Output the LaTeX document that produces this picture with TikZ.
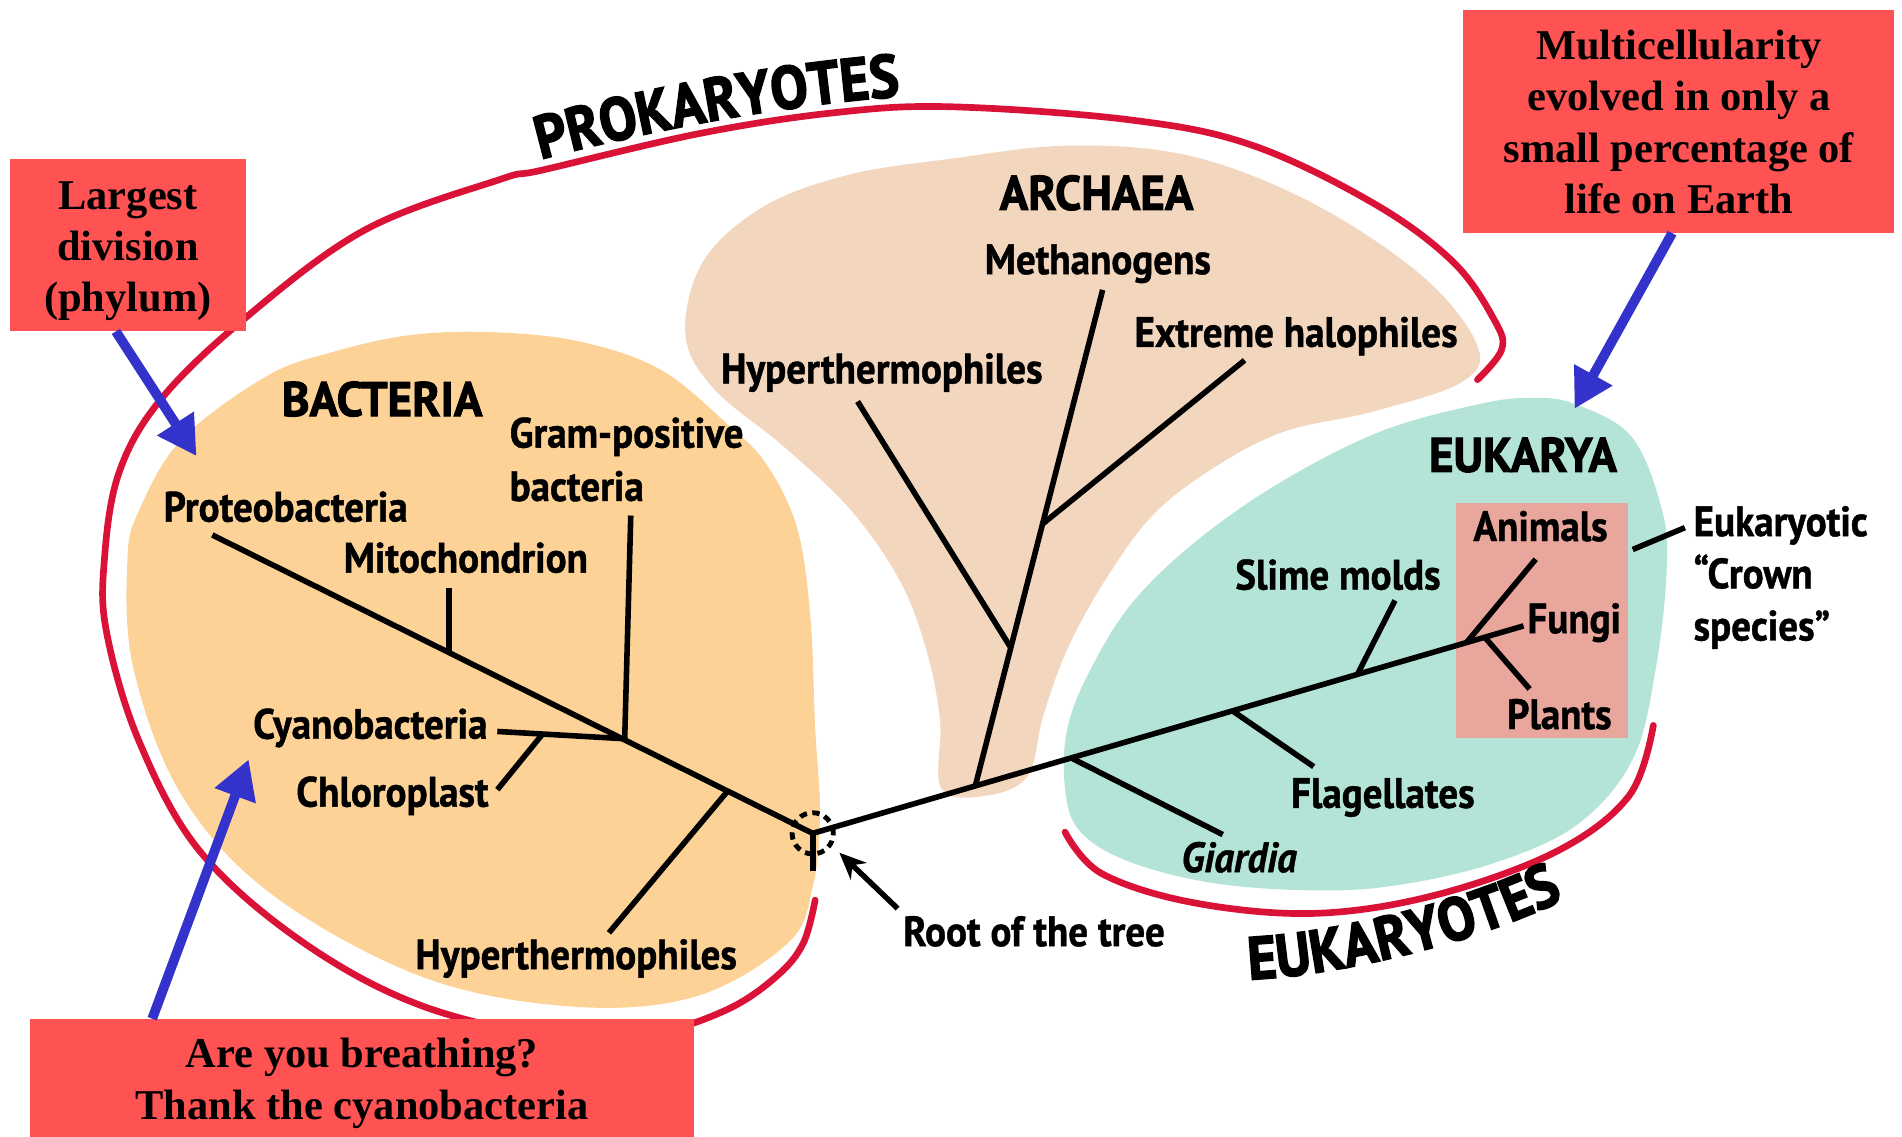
\documentclass[tikz,border=0pt]{standalone}
\usepackage{fontspec}
\usetikzlibrary{arrows.meta,decorations.text}
\newfontfamily\labf[FakeStretch=0.92,FakeBold=1]{PT Sans}
\newfontfamily\ttlf[FakeStretch=0.97,FakeBold=2]{PT Sans}
\newfontfamily\bigf[FakeStretch=0.92,FakeBold=2.5]{PT Sans}
\newfontfamily\callf{Liberation Serif}
\definecolor{bactC}{RGB}{253,210,150}
\definecolor{archC}{RGB}{242,214,190}
\definecolor{eukC}{RGB}{180,228,215}
\definecolor{crownC}{RGB}{232,166,156}
\definecolor{arcC}{RGB}{218,18,55}
\definecolor{boxC}{RGB}{255,82,82}
\definecolor{blueC}{RGB}{51,51,204}
\begin{document}
\begin{tikzpicture}[x=1pt,y=-1pt,
  lab/.style={font=\labf\bfseries\fontsize{35}{43}\selectfont, inner sep=0pt},
  ttl/.style={font=\ttlf\bfseries\fontsize{40}{42}\selectfont, inner sep=0pt},
  calltext/.style={font=\callf\bfseries\fontsize{35}{42.3}\selectfont, inner sep=0pt, align=center},
  callbox/.style={fill=boxC, draw=none, inner sep=0pt},
  branch/.style={line width=4.6pt},
  redarc/.style={draw=arcC, line width=5.5pt, line cap=round},
  bluearrow/.style={draw=blueC, fill=blueC, line width=8pt, -{Triangle[width=34pt,length=32pt]}},
  rootarrow/.style={line width=4.5pt, -{Stealth[width=19pt,length=22pt]}},
  rootcircle/.style={line width=4pt, dash pattern=on 6pt off 4.5pt},
]
\useasboundingbox (0,0) rectangle (1568,937);
\fill[white] (0,0) rectangle (1568,937);

% blobs
\fill[bactC] plot[smooth cycle, tension=0.6] coordinates {
 (105,462) (110,551) (150,656) (225,738) (350,806) (475,830) (575,821) (650,777)
 (670,731) (676,672) (672,600) (668,508) (657,435) (632,383) (600,350) (545,305)
 (480,282) (410,274) (340,276) (275,290) (220,310) (150,362) (115,420)};
\fill[archC] plot[smooth cycle, tension=0.6] coordinates {
 (565,275) (580,215) (630,170) (700,144) (783,131) (883,120) (983,129) (1083,168)
 (1173,228) (1218,285) (1205,315) (1133,339) (1058,356) (1000,386) (950,425)
 (910,480) (880,535) (860,590) (847,640) (812,656) (776,650) (775,594) (764,537)
 (742,479) (701,420) (646,368) (588,320)};
\fill[eukC] plot[smooth cycle, tension=0.6] coordinates {
 (1298,333) (1345,360) (1370,420) (1374,470) (1365,551) (1346,626) (1300,680)
 (1230,712) (1150,730) (1083,734) (1000,728) (930,710) (890,685) (878,650)
 (880,600) (900,550) (935,495) (990,443) (1060,395) (1140,355) (1220,333) (1262,328)};
\fill[crownC] (1200,415) rectangle (1342,608);

% red arcs
\draw[redarc] plot[smooth, tension=0.6] coordinates {
 (672,742) (662,778) (640,805) (600,832) (540,852) (470,857) (350,830) (250,777)
 (165,702) (115,612) (88,522) (86,462) (98,390) (132,330) (200,264) (300,190)
 (412,148) (448,140) (577,110) (687,93) (783,88) (933,99) (1033,120) (1133,168)
 (1198,216) (1232,264) (1238,288) (1218,313)};
\draw[redarc] plot[smooth, tension=0.6] coordinates {
 (878,686) (908,720) (983,744) (1083,753) (1183,738) (1283,702) (1343,656) (1363,598)};

% big arc labels
\path[decorate, decoration={text along path, text align=center,
  text={|\bigf\bfseries\fontsize{50}{50}\selectfont|PROKARYOTES}}]
  (440,133) .. controls (540,106) and (650,86) .. (748,79);
\path[decorate, decoration={text along path, text align=center,
  text={|\bigf\bfseries\fontsize{50}{50}\selectfont|EUKARYOTES}}]
  (1020,808) .. controls (1100,806) and (1222,777) .. (1298,737);

% tree coordinates
\coordinate (root) at (670,687);
\coordinate (rootstub) at (670,718);
\coordinate (proteoE) at (175,441);
\coordinate (jMito) at (370,538);
\coordinate (mitoE) at (370,485);
\coordinate (jGram) at (515,609);
\coordinate (gramE) at (520,425);
\coordinate (cyanoE) at (410,603);
\coordinate (jChloro) at (447,605.5);
\coordinate (chloroE) at (410,651);
\coordinate (jHypB) at (600,652);
\coordinate (hypBE) at (502,769);
\coordinate (fungiE) at (1256,516);
\coordinate (jArch) at (804,648);
\coordinate (jGiardia) at (883,624.8);
\coordinate (jFlag) at (1016,586);
\coordinate (jSlime) at (1119,556);
\coordinate (jCrown) at (1209,529.7);
\coordinate (jPlants) at (1224,525.3);
\coordinate (giardiaE) at (1008,688);
\coordinate (flagE) at (1083,632);
\coordinate (slimeE) at (1150,495);
\coordinate (animalsE) at (1266,461);
\coordinate (plantsE) at (1261,568);
\coordinate (methE) at (909,239);
\coordinate (jHalo) at (859.4,432);
\coordinate (haloE) at (1026,297);
\coordinate (jHypA) at (833.3,534);
\coordinate (hypAE) at (707,331);
\coordinate (crownA) at (1346,453);
\coordinate (crownB) at (1389,435);

% tree branches
\draw[branch] (proteoE) -- (root) -- (fungiE);
\draw[branch] (root) -- (rootstub);
\draw[branch] (jMito) -- (mitoE);
\draw[branch] (jGram) -- (gramE);
\draw[branch] (cyanoE) -- (jGram);
\draw[branch] (jChloro) -- (chloroE);
\draw[branch] (jHypB) -- (hypBE);
\draw[branch] (jArch) -- (methE);
\draw[branch] (jHalo) -- (haloE);
\draw[branch] (jHypA) -- (hypAE);
\draw[branch] (jGiardia) -- (giardiaE);
\draw[branch] (jFlag) -- (flagE);
\draw[branch] (jSlime) -- (slimeE);
\draw[branch] (jCrown) -- (animalsE);
\draw[branch] (jPlants) -- (plantsE);
\draw[branch] (crownA) -- (crownB);
\draw[rootcircle] (root) circle[radius=17pt];

% labels
\node[ttl,anchor=base] (bact) at (315,343) {BACTERIA};
\node[ttl,anchor=base] (arch) at (904,173) {ARCHAEA};
\node[ttl,anchor=base] (euk) at (1255.5,389) {EUKARYA};
\node[lab,anchor=base] (proteo) at (235.5,430) {Proteobacteria};
\node[lab,anchor=base] (mito) at (384,472) {Mitochondrion};
\node[lab,anchor=base west] (gram1) at (420,369) {Gram-positive};
\node[lab,anchor=base west] (gram2) at (420,413) {bacteria};
\node[lab,anchor=base east] (cyano) at (402,609) {Cyanobacteria};
\node[lab,anchor=base east] (chloro) at (403,665) {Chloroplast};
\node[lab,anchor=base] (hypB) at (475,799) {Hyperthermophiles};
\node[lab,anchor=base] (meth) at (905,226) {Methanogens};
\node[lab,anchor=base] (halo) at (1068.5,286) {Extreme halophiles};
\node[lab,anchor=base] (hypA) at (727,316) {Hyperthermophiles};
\node[lab,anchor=base] (anim) at (1270,446) {Animals};
\node[lab,anchor=base west] (fungi) at (1259,522) {Fungi};
\node[lab,anchor=base] (plants) at (1285.5,601) {Plants};
\node[lab,anchor=base] (slime) at (1103,486) {Slime molds};
\node[lab,anchor=base] (flag) at (1140,666) {Flagellates};
\node[lab,anchor=base] (giardia) at (1021.5,719) {\itshape Giardia};
\node[lab,anchor=base west] (crown1) at (1396,442) {Eukaryotic};
\node[lab,anchor=base west] (crown2) at (1396,485) {“Crown};
\node[lab,anchor=base west] (crown3) at (1396,528) {species”};
\node[lab,anchor=base] (rootlab) at (852.5,780) {Root of the tree};

% root arrow
\coordinate (rootTail) at (740,749);
\coordinate (rootTip) at (692,703);
\draw[rootarrow] (rootTail) -- (rootTip);

% callout boxes
\node[callbox, minimum width=195pt, minimum height=142pt] (b1) at (105.5,202) {};
\node[calltext] (b1t) at (105.5,207) {Largest\\division\\(phylum)};
\node[callbox, minimum width=355pt, minimum height=184pt] (b2) at (1383.5,100) {};
\node[calltext] (b2t) at (1384,100.5) {Multicellularity\\evolved in only a\\small percentage of\\life on Earth};
\node[callbox, minimum width=547pt, minimum height=97pt] (b3) at (298.5,888.5) {};
\node[calltext] (b3t) at (298.5,893) {Are you breathing?\\Thank the cyanobacteria};

% blue arrows
\coordinate (t1) at (162,376);
\coordinate (t2) at (1298,337);
\coordinate (t3) at (205,626);
\draw[bluearrow] ([xshift=-10pt]b1.south) -- (t1);
\draw[bluearrow] ([xshift=-5pt]b2.south) -- (t2);
\draw[bluearrow] ([xshift=-173pt]b3.north) -- (t3);
\end{tikzpicture}
\end{document}
